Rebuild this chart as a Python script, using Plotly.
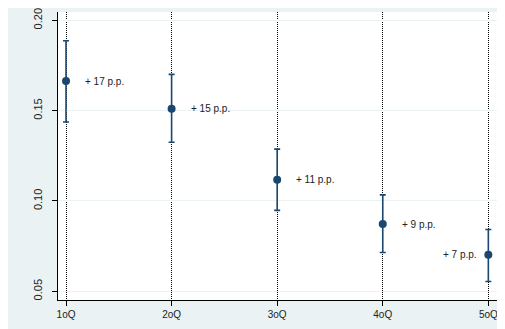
import plotly.graph_objects as go

categories = ["1oQ", "2oQ", "3oQ", "4oQ", "5oQ"]
estimates = [0.1664, 0.1510, 0.1117, 0.0872, 0.0702]
ci_upper = [0.1887, 0.1701, 0.1287, 0.1034, 0.0842]
ci_lower = [0.1437, 0.1325, 0.0948, 0.0715, 0.0554]
labels = ["+ 17 p.p.", "+ 15 p.p.", "+ 11 p.p.", "+ 9 p.p.", "+ 7 p.p."]
label_side = ["right", "right", "right", "right", "left"]
y_ticks = [0.05, 0.10, 0.15, 0.20]

navy = "#1a476f"
bg_blue = "#eaf2f3"

err_plus = [u - e for u, e in zip(ci_upper, estimates)]
err_minus = [e - l for e, l in zip(estimates, ci_lower)]

fig = go.Figure()
fig.add_trace(go.Scatter(
    x=categories, y=estimates, mode="markers",
    marker=dict(color=navy, size=8),
    error_y=dict(type="data", symmetric=False, array=err_plus, arrayminus=err_minus,
                 color=navy, thickness=1.6, width=3),
    showlegend=False, hoverinfo="skip",
))

for c, e, t, side in zip(categories, estimates, labels, label_side):
    fig.add_annotation(
        x=c, y=e, text=t, showarrow=False,
        xanchor="left" if side == "right" else "right", yanchor="middle",
        xshift=17 if side == "right" else -9,
        font=dict(family="Liberation Sans, Arial, sans-serif", size=10, color="#222"),
    )

fig.update_layout(
    width=497, height=321,
    margin=dict(l=50, r=8, t=4, b=29, autoexpand=False),
    paper_bgcolor=bg_blue, plot_bgcolor="white",
    font=dict(family="Liberation Sans, Arial, sans-serif", color="#222"),
)
fig.update_xaxes(
    type="category", range=[-0.076, 4.082], automargin=False,
    showgrid=True, gridcolor="black", griddash="1px,1px", gridwidth=1,
    showline=True, linecolor="black", linewidth=1,
    ticks="outside", ticklen=5, tickcolor="black",
    tickfont=dict(size=10, color="#222"),
    ticklabeloverflow="allow",
    zeroline=False, fixedrange=True,
)
fig.update_yaxes(
    range=[0.0452, 0.2046], automargin=False,
    tickvals=y_ticks, tickformat=".2f", tickangle=-90,
    showgrid=True, gridcolor=bg_blue, gridwidth=1,
    showline=True, linecolor="black", linewidth=1,
    ticks="outside", ticklen=5, tickcolor="black",
    tickfont=dict(size=11, color="#222"),
    ticklabelstandoff=6, ticklabeloverflow="allow",
    zeroline=False, fixedrange=True,
)

fig.write_html("out.html")
